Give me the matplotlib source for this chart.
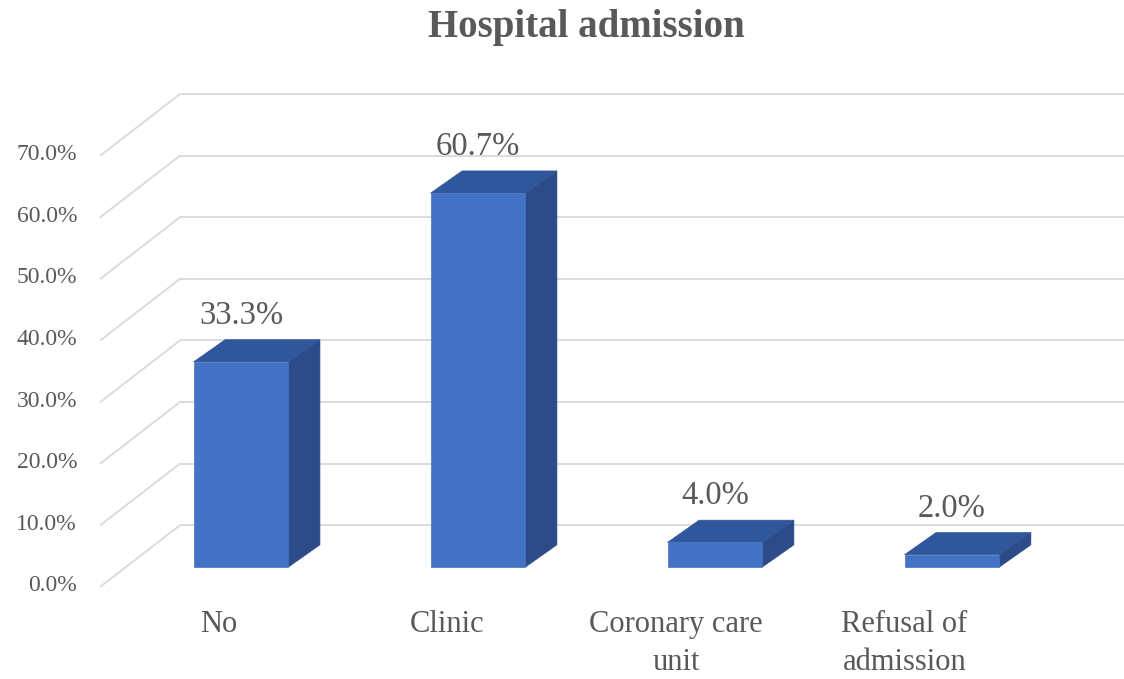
import matplotlib
matplotlib.use("Agg")
import matplotlib.pyplot as plt
from matplotlib.patches import Polygon

# ---------------- DATA ----------------
categories = ["No", "Clinic", "Coronary care\nunit", "Refusal of\nadmission"]
values = [33.3, 60.7, 4.0, 2.0]
ticks = [0, 10, 20, 30, 40, 50, 60, 70]
tick_labels = ["0.0%", "10.0%", "20.0%", "30.0%", "40.0%", "50.0%", "60.0%", "70.0%"]
title = "Hospital admission"
# --------------------------------------

# oblique "3D" offsets, in data units (x = category index, y = percent)
BAR_HALF = 0.20
BAR_DX, BAR_DY = 0.133, 3.6        # bar depth
WALL_DX, WALL_DY = 0.228, 6.8      # back wall relative to bar fronts
FRONT_DX, FRONT_DY = -0.110, -3.25  # front edge of the floor
FLOOR_LEFT = -0.595

FRONT_C = "#4472C4"
TOP_C = "#30569C"
SIDE_C = "#2C4B88"
GRID_C = "#D9D9D9"
TEXT_C = "#595959"
FONT = "Liberation Serif"

fig = plt.figure(figsize=(11.24, 6.79), dpi=100)
ax = fig.add_axes([0, 0, 1, 1])
ax.set_xlim(-1.017, 3.726)
ax.set_ylim(-18.18, 92.05)
ax.axis("off")

# gridlines: diagonal on the floor side, horizontal on the back wall
wall_left = FLOOR_LEFT - FRONT_DX + WALL_DX
for t, lab in zip(ticks, tick_labels):
    ax.plot([FLOOR_LEFT, wall_left], [t + FRONT_DY, t + WALL_DY],
            color=GRID_C, lw=1.3, zorder=1, solid_capstyle="butt")
    ax.plot([wall_left, 4.0], [t + WALL_DY, t + WALL_DY],
            color=GRID_C, lw=1.3, zorder=1, solid_capstyle="butt")
    ax.text(-0.692, t + FRONT_DY + 0.2, lab, ha="right", va="center",
            fontsize=17, color=TEXT_C, family=FONT)

# bars as front, top and side faces
for i, v in enumerate(values):
    x0, x1 = i - BAR_HALF, i + BAR_HALF
    front = [(x0, 0), (x1, 0), (x1, v), (x0, v)]
    top = [(x0, v), (x1, v), (x1 + BAR_DX, v + BAR_DY), (x0 + BAR_DX, v + BAR_DY)]
    side = [(x1, 0), (x1 + BAR_DX, BAR_DY), (x1 + BAR_DX, v + BAR_DY), (x1, v)]
    for pts, c in [(side, SIDE_C), (top, TOP_C), (front, FRONT_C)]:
        ax.add_patch(Polygon(pts, closed=True, facecolor=c, edgecolor=c,
                             lw=0.5, zorder=3))
    ax.text(i, v + BAR_DY + 2.6, f"{v:.1f}%", ha="center", va="baseline",
            fontsize=23.5, color=TEXT_C, family=FONT, zorder=4)

# category labels along the front of the floor
for i, cat in enumerate(categories):
    ax.text(i * 0.965 - 0.095, -7.0, cat, ha="center", va="top",
            fontsize=22, color=TEXT_C, family=FONT, linespacing=1.4)

fig.text(0.522, 1 - 37 / 679, title, ha="center", va="baseline",
         fontsize=28, fontweight="bold", color=TEXT_C, family=FONT)

fig.savefig("out.png", dpi=100, facecolor="white")
